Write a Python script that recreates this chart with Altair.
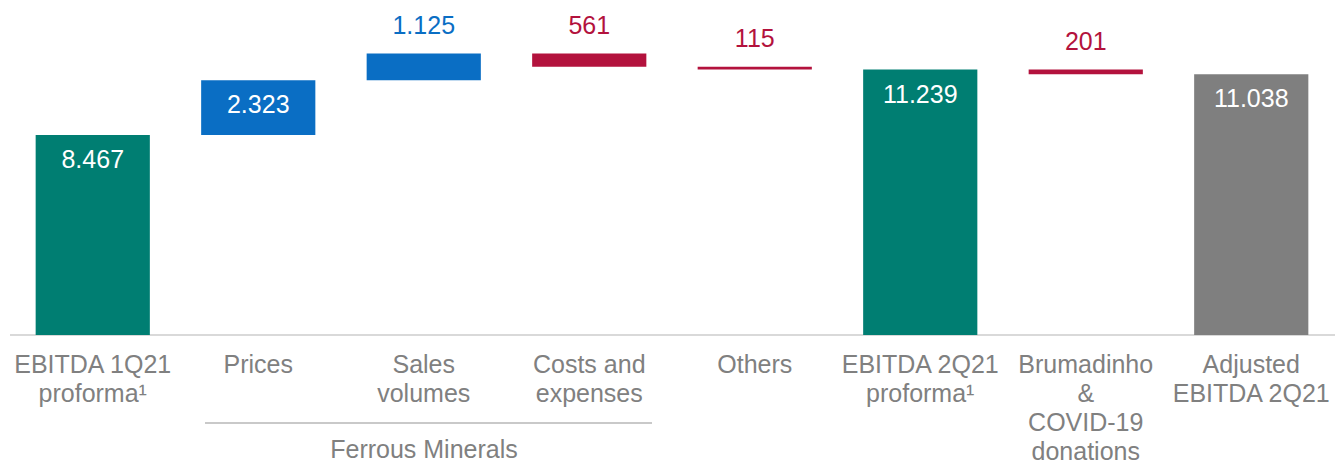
import altair as alt
import pandas as pd

categories = ["EBITDA 1Q21 proforma", "Prices", "Sales volumes", "Costs and expenses",
              "Others", "EBITDA 2Q21 proforma", "Brumadinho & COVID-19 donations",
              "Adjusted EBITDA 2Q21"]
axis_labels = ["EBITDA 1Q21\nproforma¹", "Prices", "Sales\nvolumes", "Costs and\nexpenses",
               "Others", "EBITDA 2Q21\nproforma¹", "Brumadinho\n&\nCOVID-19\ndonations",
               "Adjusted\nEBITDA 2Q21"]
values = [8467, 2323, 1125, -561, -115, 11239, -201, 11038]
kinds = ["total", "up", "up", "down", "down", "total", "down", "adjusted"]
label_inside = [True, True, False, False, False, True, False, True]
group_label = "Ferrous Minerals"

rows = []
running = 0
for c, lab, v, k, ins in zip(categories, axis_labels, values, kinds, label_inside):
    if k in ("total", "adjusted"):
        start, end = 0, v
        running = v
    else:
        start, end = running, running + v
        running = end
    rows.append({"cat": c, "label": lab, "start": start, "end": end,
                 "top": max(start, end), "kind": k, "inside": ins,
                 "txt": f"{abs(v):,}".replace(",", ".")})
df = pd.DataFrame(rows)

color_scale = alt.Scale(domain=["total", "up", "down", "adjusted"],
                        range=["#007E72", "#0A6EC4", "#B3123D", "#7F7F7F"])
text_scale = alt.Scale(domain=["total", "up", "down", "adjusted"],
                       range=["#FFFFFF", "#2A74B8", "#A8264B", "#FFFFFF"])

xenc = alt.X("cat:N", sort=categories,
             scale=alt.Scale(paddingInner=0.31, paddingOuter=0.155), axis=None)
yscale = alt.Scale(domain=[0, 14183], nice=False, zero=True)

base = alt.Chart(df)
FONT = "Liberation Sans"

bars = base.mark_bar().encode(
    x=xenc,
    y=alt.Y("start:Q", scale=yscale, axis=None),
    y2="end:Q",
    color=alt.Color("kind:N", scale=color_scale, legend=None),
)

inside_txt = base.transform_filter("datum.inside").mark_text(
    font=FONT, fontSize=25, baseline="middle", dy=25, color="white"
).encode(x=xenc, y=alt.Y("top:Q", scale=yscale), text="txt:N")

above_txt = base.transform_filter("!datum.inside").mark_text(
    font=FONT, fontSize=25, baseline="middle", dy=-28
).encode(x=xenc, y=alt.Y("top:Q", scale=yscale), text="txt:N",
         color=alt.Color("kind:N", scale=text_scale, legend=None))

cat_txt = base.mark_text(
    font=FONT, fontSize=25, baseline="alphabetic", lineBreak="\n", lineHeight=29,
    color="#808080"
).encode(x=xenc, y=alt.value(373), text="label:N")

baseline_rule = alt.Chart(df).mark_rule(color="#D9D9D9", strokeWidth=2).encode(
    x=alt.value(0), x2=alt.value(1325), y=alt.value(335))

group_rule = alt.Chart(df).mark_rule(color="#C8C8C8", strokeWidth=1.5).encode(
    x=alt.value(195), x2=alt.value(642), y=alt.value(423))

group_txt = alt.Chart(pd.DataFrame({"g": [group_label]})).mark_text(
    font=FONT, fontSize=25, baseline="alphabetic", color="#808080"
).encode(x=alt.value(414), y=alt.value(458), text="g:N")

chart = alt.layer(baseline_rule, bars, inside_txt, above_txt, cat_txt, group_rule, group_txt).properties(
    width=1324, height=335, autosize="none",
    padding={"left": 10, "right": 10, "top": 0, "bottom": 131},
    background="white",
).configure_view(stroke=None)

chart.save("out.html", embed_options={"renderer": "svg", "actions": False})
